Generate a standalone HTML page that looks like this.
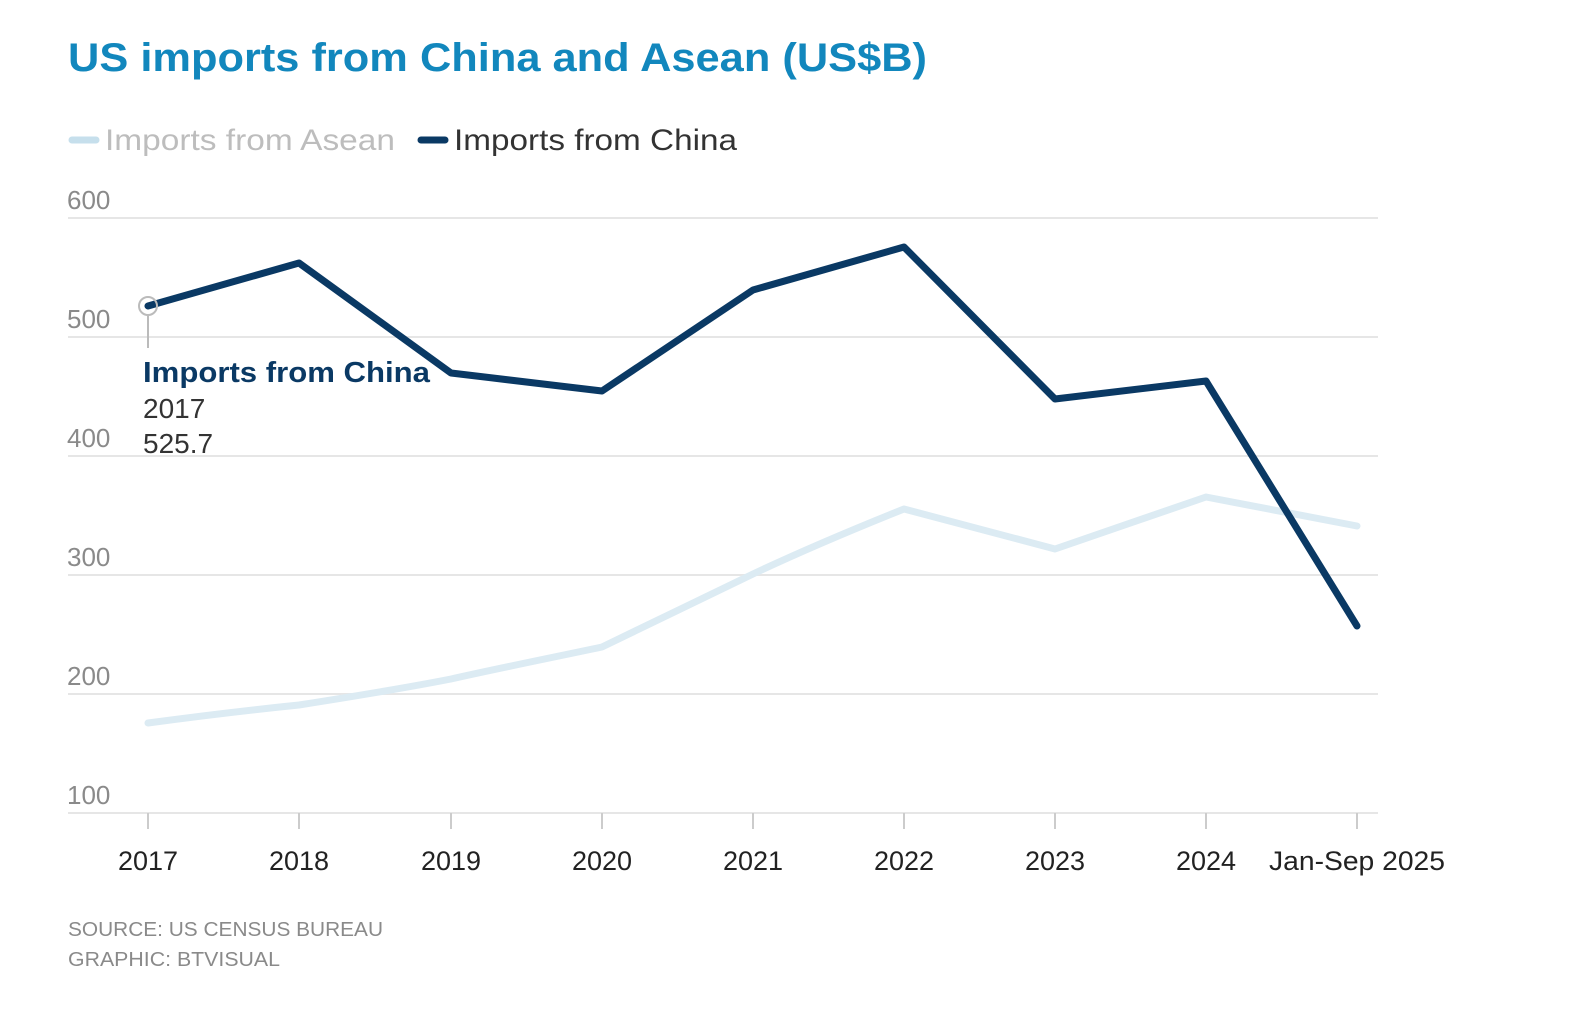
<!DOCTYPE html>
<html><head><meta charset="utf-8"><style>
body{margin:0;background:#fff;width:1582px;height:1008px;overflow:hidden;font-family:"Liberation Sans",sans-serif}
</style></head><body>
<svg width="1582" height="1008" xmlns="http://www.w3.org/2000/svg" font-family="Liberation Sans, sans-serif">
<text x="68" y="71" font-size="40" font-weight="bold" fill="#1287bd" textLength="859" lengthAdjust="spacingAndGlyphs">US imports from China and Asean (US$B)</text>
<line x1="72" y1="140" x2="96" y2="140" stroke="#c6dfec" stroke-width="7" stroke-linecap="round"/>
<text x="105" y="150" font-size="30" fill="#bdbdbd" textLength="290" lengthAdjust="spacingAndGlyphs">Imports from Asean</text>
<line x1="421" y1="140" x2="445" y2="140" stroke="#0a3964" stroke-width="7" stroke-linecap="round"/>
<text x="454" y="150" font-size="30" fill="#333" textLength="283" lengthAdjust="spacingAndGlyphs">Imports from China</text>
<g stroke="#e6e6e6" stroke-width="2">
<line x1="68" y1="218" x2="1378" y2="218"/><line x1="68" y1="337" x2="1378" y2="337"/>
<line x1="68" y1="456" x2="1378" y2="456"/><line x1="68" y1="575" x2="1378" y2="575"/>
<line x1="68" y1="694" x2="1378" y2="694"/><line x1="68" y1="813" x2="1378" y2="813"/>
</g>
<g font-size="26" fill="#8a8a8a">
<text x="67" y="209">600</text><text x="67" y="328">500</text><text x="67" y="447">400</text>
<text x="67" y="566">300</text><text x="67" y="685">200</text><text x="67" y="804">100</text>
</g>
<g stroke="#ccc" stroke-width="2">
<line x1="148" y1="813" x2="148" y2="829"/><line x1="299" y1="813" x2="299" y2="829"/><line x1="451" y1="813" x2="451" y2="829"/>
<line x1="602" y1="813" x2="602" y2="829"/><line x1="753" y1="813" x2="753" y2="829"/><line x1="904" y1="813" x2="904" y2="829"/>
<line x1="1055" y1="813" x2="1055" y2="829"/><line x1="1206" y1="813" x2="1206" y2="829"/><line x1="1357" y1="813" x2="1357" y2="829"/>
</g>
<g font-size="27" fill="#222" text-anchor="middle">
<text x="148" y="870">2017</text><text x="299" y="870">2018</text><text x="451" y="870">2019</text>
<text x="602" y="870">2020</text><text x="753" y="870">2021</text><text x="904" y="870">2022</text>
<text x="1055" y="870">2023</text><text x="1206" y="870">2024</text><text x="1357" y="870" textLength="176" lengthAdjust="spacingAndGlyphs">Jan-Sep 2025</text>
</g>
<path d="M148,723 C200,716 250,710 299,705 C350,697 400,689 451,679 C500,668 550,658 602,647 C652,623 703,598 753,574 C804,550 854,529 904,509 L1055,549 L1206,497 L1357,526" fill="none" stroke="#dcebf3" stroke-width="7" stroke-linejoin="round" stroke-linecap="round"/>
<polyline points="148,306 299,263 451,373 602,391 753,290 904,247 1055,399 1206,381 1357,626" fill="none" stroke="#0a3964" stroke-width="7" stroke-linejoin="round" stroke-linecap="round"/>
<circle cx="148" cy="306" r="9" fill="none" stroke="#bbb" stroke-width="2"/>
<line x1="148" y1="315" x2="148" y2="348" stroke="#bbb" stroke-width="2"/>
<text x="143" y="382" font-size="29" font-weight="bold" fill="#0a3964" textLength="287" lengthAdjust="spacingAndGlyphs">Imports from China</text>
<text x="143" y="418" font-size="28" fill="#333">2017</text>
<text x="143" y="453" font-size="28" fill="#333">525.7</text>
<text x="68" y="936" font-size="20" fill="#8a8a8a" textLength="315" lengthAdjust="spacingAndGlyphs">SOURCE: US CENSUS BUREAU</text>
<text x="68" y="966" font-size="20" fill="#8a8a8a" textLength="212" lengthAdjust="spacingAndGlyphs">GRAPHIC: BTVISUAL</text>
</svg>
</body></html>
